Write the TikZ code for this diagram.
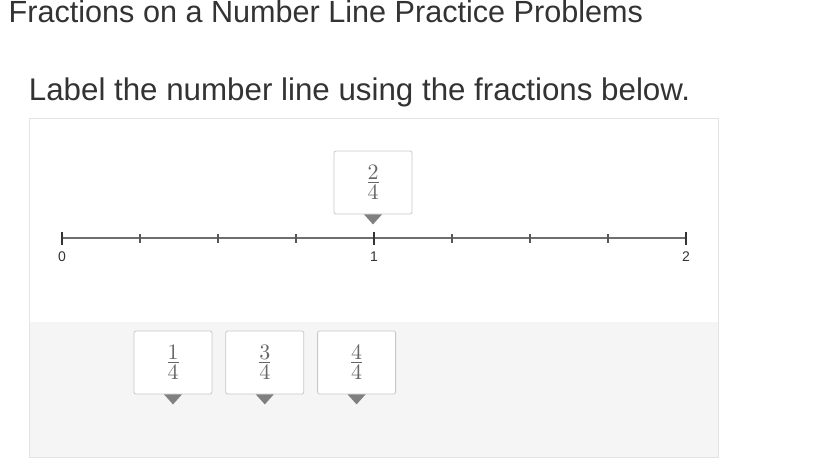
\documentclass[tikz,border=0pt]{standalone}
\usepackage[no-math]{fontspec}
\usepackage{amsmath}
\usepackage{graphicx}
\usetikzlibrary{positioning}
\newfontfamily\arialfont{Liberation Sans}
\definecolor{inkgray}{HTML}{333333}
\definecolor{linegray}{HTML}{6E6E6E}
\definecolor{panelgray}{HTML}{E3E3E3}
\definecolor{traygray}{HTML}{F5F5F5}
\definecolor{cardgray}{HTML}{C8C8C8}
\definecolor{markgray}{HTML}{808080}
\definecolor{fracgray}{HTML}{666666}
\tikzstyle{heading} = [inner sep=0pt, text=inkgray, anchor=base west]
\tikzstyle{panel} = [draw=panelgray, line width=1pt]
\tikzstyle{numline} = [draw=linegray, line width=2.2pt]
\tikzstyle{minortick} = [draw=linegray!80!black, line width=1.2pt]
\tikzstyle{majortick} = [draw=inkgray, line width=1.2pt]
\tikzstyle{ticklabel} = [inner sep=0pt, text=inkgray, font=\arialfont\fontsize{14}{16}\selectfont]
\tikzstyle{card} = [draw=cardgray, fill=white, rounded corners=2pt, line width=0.8pt,
    minimum width=78pt, minimum height=63pt, inner sep=0pt, text=fracgray]
\tikzstyle{marker} = [fill=markgray]

% a fraction as the cards print it
\newcommand{\cardfrac}[2]{\scalebox{2.2}{$\frac{\textstyle #1}{\textstyle\rule{0pt}{7.3pt}#2}$}}

\begin{document}
\begin{tikzpicture}[x=1pt,y=-1pt,node distance=13pt]
\useasboundingbox[fill=white] (0,0) rectangle (814,472);

% the two lines of text
\node[heading, font=\arialfont\fontsize{30.6}{36}\selectfont] (title) at (8.5,22) {Fractions on a Number Line Practice Problems};
\node[heading, font=\arialfont\fontsize{31.3}{36}\selectfont] (task) at (28.7,100) {Label the number line using the fractions below.};

% panel, grey tray in the lower part
\fill[traygray] (29,322) rectangle (718,457);
\draw[panel] (29,118) rectangle (718,457);

% number line from 0 to 2 in quarters
\coordinate (zero) at (62,238);
\coordinate (two) at (686,238);
\draw[numline] (zero) -- (two);
\foreach \i in {1,2,3,5,6,7}
    \draw[minortick] (62+78*\i,234) -- ++(0,9);
\foreach \i/\t in {0/0,4/1,8/2}{
    \draw[majortick] (62+78*\i,232) -- ++(0,13);
    \node[ticklabel] (lab\t) at (62+78*\i,256.5) {\t};
}

% the card already on the line
\node[card] (box24) at (373,182.5) {\cardfrac{2}{4}};
\fill[marker] (box24.south) ++(-9,0) -- ++(18,0) -- ++(-9,10) -- cycle;

% the cards still in the tray
\node[card] (box14) at (173,362.5) {\cardfrac{1}{4}};
\node[card, right=of box14] (box34) {\cardfrac{3}{4}};
\node[card, right=of box34] (box44) {\cardfrac{4}{4}};
\foreach \b in {box14,box34,box44}
    \fill[marker] (\b.south) ++(-9,0) -- ++(18,0) -- ++(-9,10) -- cycle;

\end{tikzpicture}
\end{document}
